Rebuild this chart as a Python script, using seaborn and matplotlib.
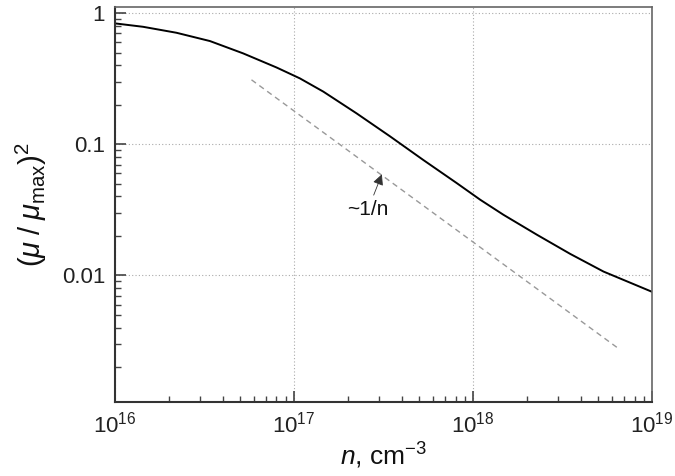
import seaborn as sns
import matplotlib.pyplot as plt
import matplotlib.ticker as mticker
import pandas as pd

# curve
n_vals = [1.0e16, 1.44e16, 2.21e16, 3.4e16, 5.21e16, 8.0e16, 1.08e17, 1.46e17,
          2.24e17, 3.44e17, 5.28e17, 8.13e17, 1.10e18, 1.48e18, 2.28e18,
          3.49e18, 5.36e18, 1.0e19]
mu_sq = [0.835, 0.786, 0.708, 0.612, 0.493, 0.385, 0.318, 0.252,
         0.172, 0.115, 0.0759, 0.0505, 0.0377, 0.0290, 0.0204,
         0.0146, 0.0107, 0.0075]

# ~1/n guide line
guide_n = [5.8e16, 6.5e18]
guide_y = [0.31, 0.00277]

x_ticks = [1e16, 1e17, 1e18, 1e19]
y_ticks = [0.01, 0.1, 1]
y_tick_labels = ["0.01", "0.1", "1"]

sns.set_style("white")
plt.rcParams["font.family"] = ["Liberation Sans", "DejaVu Sans"]
plt.rcParams["mathtext.fontset"] = "custom"
plt.rcParams["mathtext.rm"] = "Liberation Sans"
plt.rcParams["mathtext.it"] = "Liberation Sans:italic"

fig = plt.figure(figsize=(6.75, 4.76), dpi=100)
ax = fig.add_axes([0.170, 0.155, 0.796, 0.830])

curve = pd.DataFrame({"n": n_vals, "y": mu_sq})
guide = pd.DataFrame({"n": guide_n, "y": guide_y})

sns.lineplot(data=curve, x="n", y="y", color="black", lw=1.4, ax=ax)
sns.lineplot(data=guide, x="n", y="y", color="#999999", lw=1.0, ax=ax,
             linestyle=(0, (4, 3)))

ax.set_xscale("log")
ax.set_yscale("log")
ax.set_xlim(1e16, 1e19)
ax.set_ylim(0.00108, 1.11)

ax.set_xticks(x_ticks)
ax.xaxis.set_major_formatter(mticker.LogFormatterMathtext())
ax.set_yticks(y_ticks)
ax.set_yticklabels(y_tick_labels)
ax.xaxis.set_minor_locator(mticker.LogLocator(base=10, subs=range(2, 10), numticks=20))
ax.yaxis.set_minor_locator(mticker.LogLocator(base=10, subs=range(2, 10), numticks=20))
ax.xaxis.set_minor_formatter(mticker.NullFormatter())
ax.yaxis.set_minor_formatter(mticker.NullFormatter())

ax.tick_params(which="both", bottom=True, left=True, top=False, right=False)
ax.tick_params(which="major", direction="in", length=8, width=1.2,
               color="#444444", labelsize=16, labelcolor="#222222", pad=7)
ax.tick_params(which="minor", direction="in", length=4.5, width=1.0,
               color="#444444")

ax.grid(True, which="major", linestyle=(0, (1, 2)), color="#aaaaaa", lw=0.8)

for side in ["left", "bottom"]:
    ax.spines[side].set_color("#333333")
    ax.spines[side].set_linewidth(1.5)
for side in ["top", "right"]:
    ax.spines[side].set_color("#666666")
    ax.spines[side].set_linewidth(1.2)

ax.set_xlabel(r"$n$, cm$^{-3}$", fontsize=19, labelpad=2, color="#111111")
ax.set_ylabel(r"$(\mu\;/\;\mu_{\rm max})^2$", fontsize=21, labelpad=9,
              color="#111111")

ax.annotate("~1/n", xy=(3.1e17, 0.059), xytext=(2.6e17, 0.032),
            fontsize=15, ha="center", va="center", color="#111111",
            arrowprops=dict(arrowstyle="-|>", color="#333333", lw=0.6,
                            mutation_scale=16, shrinkA=1, shrinkB=0))

fig.savefig("out.png", dpi=100)
